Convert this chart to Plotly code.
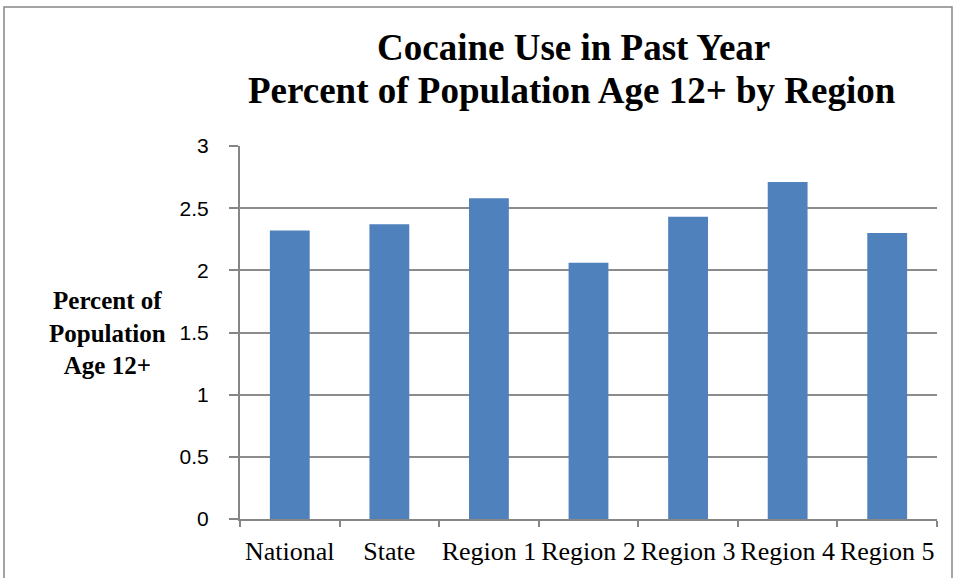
import plotly.graph_objects as go

# Past-year cocaine use, percent of population age 12+
categories = ["National", "State", "Region 1", "Region 2", "Region 3", "Region 4", "Region 5"]
percent_values = [2.32, 2.37, 2.58, 2.06, 2.43, 2.71, 2.30]
y_ticks = [0, 0.5, 1, 1.5, 2, 2.5, 3]
y_tick_labels = ["0", "0.5", "1", "1.5", "2", "2.5", "3"]

SERIF = "'Liberation Serif', 'Times New Roman', serif"
SANS = "'Liberation Sans', Arial, sans-serif"

W, H = 956, 578
M_L, M_R, M_T, M_B = 240, 19, 146, 59
PW, PH = W - M_L - M_R, H - M_T - M_B


def px_x(x):
    """Pixel column -> paper x."""
    return (x - M_L) / PW


def px_y(y):
    """Pixel row (from top) -> paper y."""
    return (H - M_B - y) / PH


fig = go.Figure(
    go.Bar(
        x=categories,
        y=percent_values,
        marker=dict(color="#4f81bd", line=dict(width=0)),
        hoverinfo="x+y",
    )
)

fig.update_layout(
    width=W,
    height=H,
    margin=dict(l=M_L, r=M_R, t=M_T, b=M_B, autoexpand=False),
    paper_bgcolor="white",
    plot_bgcolor="white",
    bargap=0.6,
    showlegend=False,
    font=dict(family=SERIF, color="black"),
)

fig.update_xaxes(
    showgrid=False,
    showline=True,
    linecolor="#868686",
    linewidth=2,
    ticks="outside",
    tickson="boundaries",
    ticklen=6,
    tickwidth=2,
    tickcolor="#868686",
    tickangle=0,
    automargin=False,
    ticklabelstandoff=8,
    tickfont=dict(family=SERIF, size=26, color="black"),
)

fig.update_yaxes(
    range=[0, 3],
    tickvals=y_ticks,
    ticktext=y_tick_labels,
    showgrid=True,
    gridcolor="#8c8c8c",
    gridwidth=2,
    showline=True,
    linecolor="#868686",
    linewidth=2,
    ticks="outside",
    ticklen=9,
    tickwidth=2,
    tickcolor="#868686",
    automargin=False,
    ticklabelstandoff=16,
    zeroline=False,
    tickfont=dict(family=SANS, size=21, color="black"),
)

# Chart title (two lines)
fig.add_annotation(
    text="<b>Cocaine Use in Past Year</b>",
    xref="paper", yref="paper",
    x=px_x(573), y=px_y(47),
    xanchor="center", yanchor="middle",
    showarrow=False,
    font=dict(family=SERIF, size=37, color="black"),
)
fig.add_annotation(
    text="<b>Percent of Population Age 12+ by Region</b>",
    xref="paper", yref="paper",
    x=px_x(572), y=px_y(91),
    xanchor="center", yanchor="middle",
    showarrow=False,
    font=dict(family=SERIF, size=37, color="black"),
)

# Horizontal y-axis title
fig.add_annotation(
    text="<b>Percent of<br>Population<br>Age 12+</b>",
    xref="paper", yref="paper",
    x=px_x(107), y=px_y(333),
    xanchor="center", yanchor="middle", align="center",
    showarrow=False,
    font=dict(family=SERIF, size=25, color="black"),
)

# Chart frame
fig.add_shape(
    type="rect", xref="paper", yref="paper",
    x0=px_x(4), x1=px_x(952),
    y0=px_y(590), y1=px_y(7),
    line=dict(color="#868686", width=1.5),
    layer="below",
)

fig.write_html("out.html")
